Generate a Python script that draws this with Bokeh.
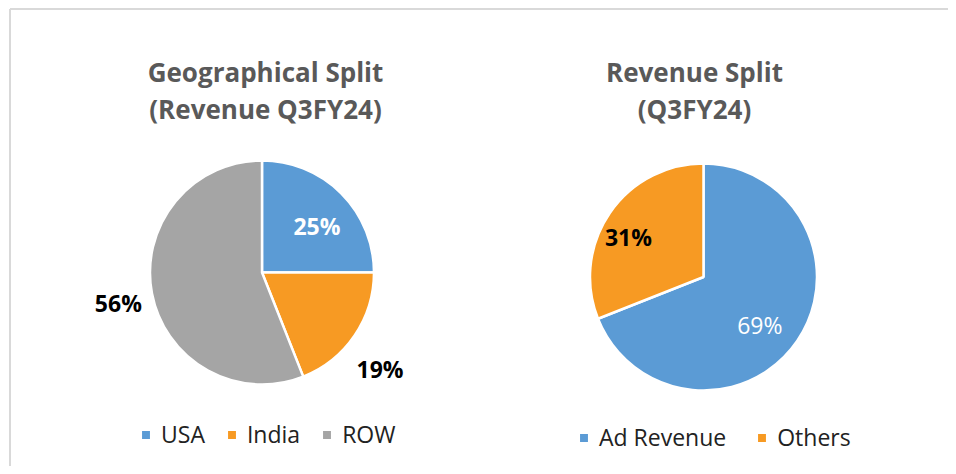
import numpy as np
from bokeh.plotting import figure
from bokeh.models import ColumnDataSource, Range1d, Legend, LegendItem
from bokeh.core.properties import value
from bokeh.embed import file_html
from bokeh.resources import INLINE

# ---- data ----
geo_labels = ["USA", "India", "ROW"]
geo_values = [25, 19, 56]
geo_colors = ["#5B9BD5", "#F79A23", "#A5A5A5"]
geo_title = ["Geographical Split", "(Revenue Q3FY24)"]

rev_labels = ["Ad Revenue", "Others"]
rev_values = [69, 31]
rev_colors = ["#5B9BD5", "#F79A23"]
rev_title = ["Revenue Split", "(Q3FY24)"]

W, H = 948, 466
FONT = "Open Sans"

p = figure(width=W, height=H, output_backend="svg", toolbar_location=None,
           x_range=Range1d(0, W), y_range=Range1d(0, H), min_border=0,
           match_aspect=False)
p.axis.visible = False
p.grid.visible = False
p.outline_line_color = None
p.background_fill_color = "white"
p.border_fill_color = "white"

# frame border (top and left visible in the reference crop)
p.line(x=[9.5, 9.5], y=[0, H - 8.5], line_color="#D9D9D9", line_width=2)
p.line(x=[9.5, W], y=[H - 8.5, H - 8.5], line_color="#D9D9D9", line_width=2)


def pie(cx, cy, r, labels, values, colors, label_r, label_dang, label_colors, label_bold,
        title, tx, legend_loc, spacing):
    vals = np.array(values, dtype=float)
    frac = vals / vals.sum()
    cum = np.concatenate([[0], np.cumsum(frac)])
    start = np.pi / 2 - cum[1:] * 2 * np.pi
    end = np.pi / 2 - cum[:-1] * 2 * np.pi
    mid = (start + end) / 2
    src = ColumnDataSource(dict(x=[cx] * len(vals), y=[cy] * len(vals), start=start, end=end,
                                color=colors, label=labels))
    wr = p.wedge(x="x", y="y", radius=r, start_angle="start", end_angle="end",
                 fill_color="color", line_color="white", line_width=2.5, source=src)
    for i, v in enumerate(values):
        a = mid[i] + np.radians(label_dang[i])
        lx = cx + label_r[i] * r * np.cos(a)
        ly = cy + label_r[i] * r * np.sin(a)
        p.text(x=[lx], y=[ly], text=[f"{v}%"], text_align="center", text_baseline="middle",
               text_font=value(FONT), text_font_size="23px",
               text_font_style="bold" if label_bold[i] else "normal",
               text_color=label_colors[i])
    p.text(x=[tx, tx], y=[H - 71, H - 108], text=title, text_align="center", text_baseline="middle",
           text_font=value(FONT), text_font_size="26px", text_font_style="bold", text_color="#595959")
    items = [LegendItem(label=lab, renderers=[wr], index=i) for i, lab in enumerate(labels)]
    leg = Legend(items=items, location=legend_loc, orientation="horizontal",
                 glyph_width=13, glyph_height=13, label_standoff=9, spacing=spacing,
                 padding=0, margin=0, border_line_color=None, background_fill_alpha=0,
                 label_text_font=FONT, label_text_font_size="23px", label_text_color="#222222",
                 label_height=22)
    p.add_layout(leg, "center")


pie(261.5, 194, 112, geo_labels, geo_values, geo_colors,
    [0.64, 1.36, 1.31], [-5, -5, 1], ["white", "black", "black"], [True, True, True],
    geo_title, 265, (139, 16), 20)
pie(703, 189.5, 113.5, rev_labels, rev_values, rev_colors,
    [0.65, 0.75], [-6, 6], ["white", "black"], [False, True],
    rev_title, 694, (577, 13), 29)

open("out.html", "w").write(file_html(p, INLINE))
